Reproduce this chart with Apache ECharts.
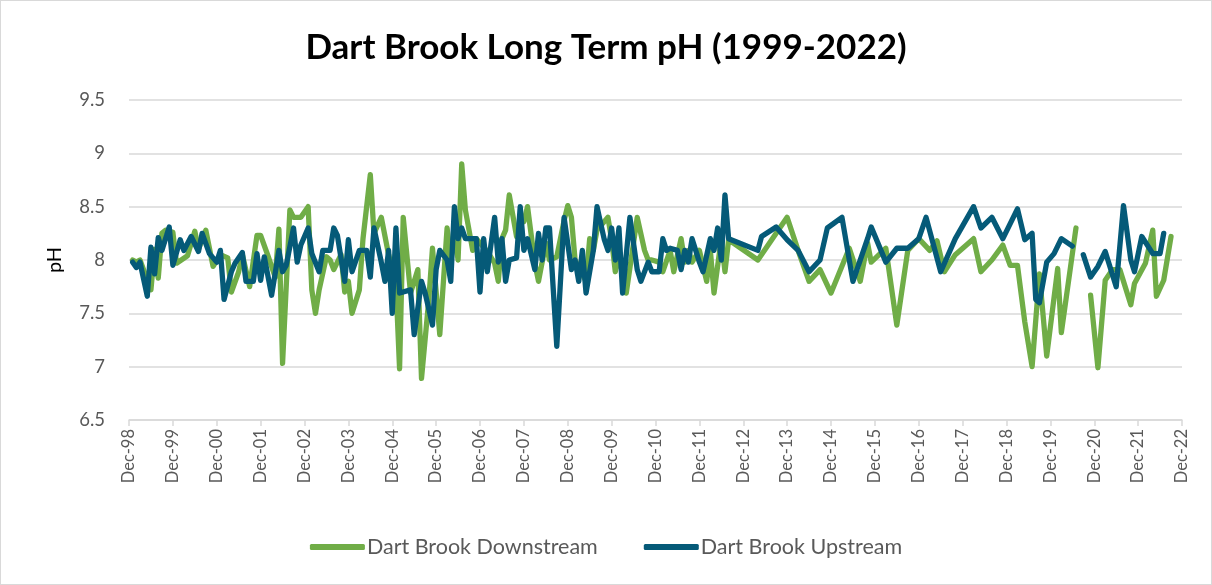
<!DOCTYPE html>
<html>
<head>
<meta charset="utf-8">
<script src="https://cdn.jsdelivr.net/npm/echarts@6/dist/echarts.min.js"></script>
<style>
  html, body { margin: 0; padding: 0; background: #fff; }
  #chart { width: 1210px; height: 583px; border: 1px solid #d9d9d9; }
</style>
</head>
<body>
<div id="chart"></div>
<script>
// Sample dates (YYYY-MM) and pH readings for each monitoring site
const downstreamDates = [
  '1999-01','1999-02','1999-03','1999-06','1999-07','1999-08','1999-09','1999-10','1999-12',
  '2000-01','2000-04','2000-06','2000-07','2000-09','2000-11',
  '2001-01','2001-03','2001-04','2001-06','2001-07','2001-09','2001-11','2001-12',
  '2002-02','2002-04','2002-05','2002-06','2002-08','2002-09','2002-11',
  '2003-01','2003-02','2003-03','2003-04','2003-06','2003-07','2003-08','2003-10','2003-11','2003-12',
  '2004-01','2004-03','2004-04','2004-06','2004-07','2004-09','2004-11',
  '2005-01','2005-02','2005-03','2005-05','2005-07','2005-08','2005-10','2005-11',
  '2006-01','2006-03','2006-04','2006-05','2006-06','2006-07','2006-08','2006-10','2006-11',
  '2007-02','2007-04','2007-05','2007-06','2007-07','2007-08','2007-10','2007-11','2007-12',
  '2008-01','2008-03','2008-04','2008-06','2008-07','2008-09','2008-11','2008-12',
  '2009-01','2009-02','2009-05','2009-06','2009-07','2009-08','2009-11','2009-12',
  '2010-01','2010-02','2010-04','2010-07','2010-09','2010-10','2010-11',
  '2011-01','2011-02','2011-04','2011-05','2011-07','2011-08','2011-09','2011-10','2011-12',
  '2012-02','2012-03','2012-04','2012-06','2012-07','2012-08',
  '2013-04','2013-12',
  '2014-03','2014-06','2014-09','2014-12',
  '2015-05','2015-08','2015-10','2015-11',
  '2016-03','2016-06','2016-09','2016-12',
  '2017-03','2017-05','2017-07','2017-10',
  '2018-03','2018-05','2018-08','2018-11',
  '2019-01','2019-03','2019-05','2019-07','2019-09','2019-11',
  '2020-02','2020-03','2020-07','2020-08','2020-11',
  '2021-01','2021-03','2021-05','2021-07','2021-10','2021-11',
  '2022-02','2022-04','2022-05','2022-07','2022-09'
];
const downstreamPH = [
  8.00,7.98,8.00,7.72,8.10,7.83,8.25,8.28,8.26,
  7.97,8.04,8.27,8.10,8.28,7.94,
  8.05,8.02,7.70,7.89,8.05,7.75,8.23,8.23,
  8.04,7.84,8.29,7.03,8.47,8.40,8.40,
  8.50,7.72,7.50,7.72,8.03,8.00,7.91,8.05,7.70,7.80,
  7.50,7.72,8.20,8.80,8.25,8.40,8.05,
  7.78,6.98,8.40,7.69,7.91,6.89,7.63,8.11,
  7.30,8.30,8.00,8.25,8.00,8.90,8.47,8.09,8.20,
  8.08,7.97,7.80,8.20,8.28,8.61,8.22,8.35,8.36,
  8.50,7.97,7.80,8.16,8.00,8.03,8.37,8.51,
  8.40,8.00,7.80,8.20,8.09,8.28,8.40,8.19,
  7.89,8.05,7.69,8.40,8.09,8.00,8.00,
  7.98,7.89,8.09,7.89,8.20,7.98,8.09,7.98,8.09,
  7.80,8.09,7.69,8.20,7.89,8.19,
  8.00,8.40,
  8.09,7.80,7.91,7.69,
  8.11,7.80,8.16,7.98,
  8.11,7.39,8.09,8.20,
  8.09,8.18,7.89,8.05,
  8.20,7.89,8.00,8.14,
  7.95,7.95,7.42,7.00,7.87,7.10,
  7.92,7.32,8.30,null,7.67,
  6.99,7.81,7.91,7.91,7.58,7.78,
  7.97,8.28,7.66,7.81,8.22
];

const upstreamDates = [
  '1999-01','1999-02','1999-03','1999-05','1999-06','1999-07','1999-08','1999-09','1999-11','1999-12',
  '2000-02','2000-03','2000-05','2000-07','2000-08','2000-10','2000-12',
  '2001-01','2001-02','2001-04','2001-05','2001-07','2001-08','2001-10','2001-11','2001-12',
  '2002-01','2002-03','2002-05','2002-06','2002-07','2002-09','2002-10','2002-11',
  '2003-01','2003-02','2003-04','2003-05','2003-07','2003-08','2003-09','2003-11','2003-12',
  '2004-01','2004-03','2004-05','2004-06','2004-07','2004-09','2004-10','2004-11','2004-12',
  '2005-01','2005-02','2005-05','2005-06','2005-08','2005-09','2005-11','2005-12',
  '2006-01','2006-03','2006-04','2006-05','2006-06','2006-07','2006-08','2006-11','2006-12',
  '2007-01','2007-02','2007-04','2007-05','2007-06','2007-07','2007-08','2007-10','2007-11','2007-12',
  '2008-01','2008-03','2008-04','2008-05','2008-06','2008-07','2008-09','2008-11',
  '2009-01','2009-02','2009-03','2009-04','2009-05','2009-07','2009-08','2009-10','2009-11','2009-12',
  '2010-01','2010-02','2010-03','2010-05','2010-07','2010-08','2010-10','2010-11',
  '2011-01','2011-02','2011-03','2011-04','2011-06','2011-07','2011-08','2011-09','2011-10','2011-12',
  '2012-01','2012-03','2012-04','2012-05','2012-06','2012-07','2012-08',
  '2013-04','2013-05','2013-09','2013-12',
  '2014-03','2014-06','2014-09','2014-11',
  '2015-03','2015-06','2015-10','2015-11',
  '2016-03','2016-06','2016-09','2016-12',
  '2017-02','2017-06','2017-10',
  '2018-03','2018-05','2018-08','2018-11',
  '2019-03','2019-05','2019-07','2019-08','2019-09','2019-11',
  '2020-01','2020-03','2020-06','2020-07','2020-09','2020-11',
  '2021-01','2021-03','2021-06','2021-08','2021-10','2021-11',
  '2022-01','2022-04','2022-06','2022-07'
];
const upstreamPH = [
  7.98,7.93,7.98,7.66,8.12,7.87,8.21,8.09,8.31,7.95,
  8.19,8.09,8.22,8.08,8.25,8.06,7.98,
  8.09,7.63,7.89,7.97,8.07,7.80,7.80,8.06,7.81,
  8.03,7.67,8.09,7.89,7.95,8.30,7.98,8.14,
  8.30,8.06,7.89,8.09,8.09,8.30,8.23,7.80,8.19,
  7.89,8.09,8.09,7.84,8.30,7.98,7.80,8.09,7.50,
  8.30,7.69,7.72,7.30,7.80,7.69,7.39,7.91,
  8.09,8.00,7.80,8.50,8.20,8.30,8.20,8.20,7.70,
  8.20,7.89,8.40,7.98,8.20,7.80,8.00,8.02,8.50,8.09,
  8.20,7.91,8.25,8.00,8.30,8.30,7.19,8.40,
  7.91,8.00,7.80,8.09,7.69,8.09,8.50,8.19,8.09,8.30,
  8.00,8.30,7.69,8.40,7.91,7.80,7.98,7.89,
  7.89,8.20,8.09,8.11,8.09,7.91,8.09,7.98,8.20,7.98,
  7.89,8.20,8.09,8.30,8.00,8.61,8.20,
  8.09,8.22,8.31,8.19,
  8.09,7.89,8.00,8.30,
  8.40,7.80,8.20,8.31,
  7.98,8.11,8.11,8.20,
  8.40,7.89,8.20,
  8.50,8.30,8.40,8.20,
  8.48,8.19,8.25,7.63,7.60,7.98,
  8.06,8.20,8.13,null,8.05,7.84,
  7.94,8.08,7.75,8.51,8.00,7.89,
  8.22,8.06,8.06,8.25
];

// Axis range: months counted from Dec 1998, labelled each December
const startYear = 1998;
const yearsShown = 24;
const yTicks = { min: 6.5, max: 9.5, step: 0.5 };

function monthIndex(d) {
  const [y, m] = d.split('-').map(Number);
  return (y - startYear) * 12 + (m - 12);
}
function toSeries(dates, values) {
  return dates.map((d, i) => [monthIndex(d), values[i] == null ? '-' : values[i]]);
}

const fontFamily = 'Lato, "Open Sans", sans-serif';
const textGrey = '#595959';
const gridGrey = '#d9d9d9';

const chart = echarts.init(document.getElementById('chart'), null, { renderer: 'canvas' });
chart.setOption({
  backgroundColor: '#ffffff',
  animation: false,
  title: {
    text: 'Dart Brook Long Term pH (1999-2022)',
    left: 'center',
    top: 24,
    textStyle: { fontFamily, fontSize: 35, fontWeight: 'bold', color: '#000000' }
  },
  legend: {
    bottom: 21,
    left: 'center',
    itemWidth: 55,
    itemHeight: 6,
    itemGap: 46,
    icon: 'roundRect',
    textStyle: { fontFamily, fontSize: 21.5, color: textGrey, padding: [0, 0, 0, -3] },
    data: ['Dart Brook Downstream', 'Dart Brook Upstream']
  },
  grid: { left: 128, right: 29, top: 99, bottom: 164, containLabel: false },
  xAxis: {
    type: 'value',
    min: 0,
    max: yearsShown * 12,
    interval: 12,
    axisLine: { show: true, lineStyle: { color: gridGrey, width: 1.5 } },
    axisTick: { show: true, length: 6, lineStyle: { color: gridGrey, width: 1.5 } },
    splitLine: { show: false },
    axisLabel: {
      rotate: 90,
      margin: 9,
      fontFamily,
      fontSize: 16.5,
      color: textGrey,
      formatter: v => 'Dec-' + String((startYear + v / 12) % 100).padStart(2, '0')
    }
  },
  yAxis: {
    type: 'value',
    min: yTicks.min,
    max: yTicks.max,
    interval: yTicks.step,
    name: 'pH',
    nameLocation: 'middle',
    nameGap: 64,
    nameRotate: 90,
    nameTextStyle: { fontFamily, fontSize: 20, color: '#000000' },
    axisLine: { show: false },
    axisTick: { show: false },
    splitLine: { show: true, lineStyle: { color: gridGrey, width: 1.5 } },
    axisLabel: { margin: 24, fontFamily, fontSize: 18.5, color: textGrey }
  },
  series: [
    {
      name: 'Dart Brook Downstream',
      type: 'line',
      data: toSeries(downstreamDates, downstreamPH),
      showSymbol: false,
      connectNulls: false,
      color: '#70ad47',
      lineStyle: { width: 5.3, color: '#70ad47', cap: 'round', join: 'round' }
    },
    {
      name: 'Dart Brook Upstream',
      type: 'line',
      data: toSeries(upstreamDates, upstreamPH),
      showSymbol: false,
      connectNulls: false,
      color: '#055a78',
      lineStyle: { width: 5.3, color: '#055a78', cap: 'round', join: 'round' }
    }
  ]
});
</script>
</body>
</html>
